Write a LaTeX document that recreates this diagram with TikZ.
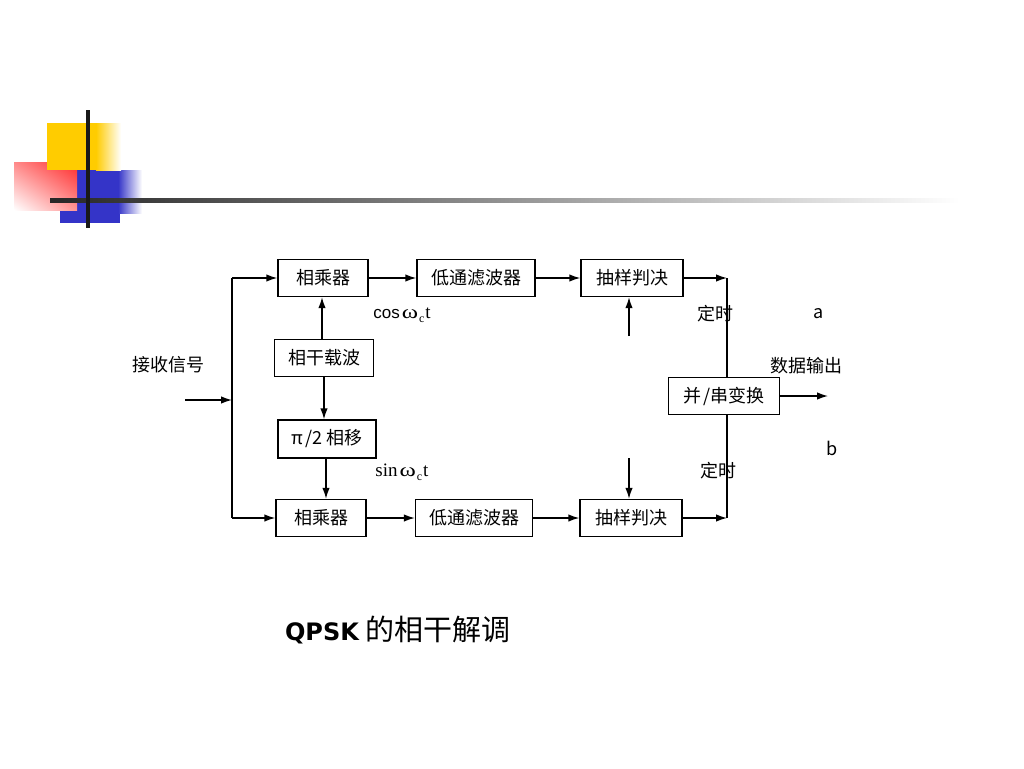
\documentclass[tikz,border=0pt]{standalone}
\usepackage{fontspec}
\setmainfont{Noto Sans CJK SC}
\newfontfamily\serif{Liberation Serif}
\newfontfamily\sans{Liberation Sans}
\newfontfamily\latinb{DejaVu Sans}
\usetikzlibrary{arrows.meta,shadings}
\definecolor{dyellow}{HTML}{FFCC00}
\definecolor{dred}{HTML}{FF2A2A}
\definecolor{dblue}{HTML}{3434C8}
\newcommand{\om}{\scalebox{1.3}[1]{ω}}
\newcommand{\subc}{\raisebox{-0.5ex}{\fontsize{12}{12}\selectfont c}}
\begin{document}
\begin{tikzpicture}[x=1pt,y=-1pt,
  box/.style={draw, line width=1.4pt, inner sep=0pt, minimum height=37pt, font=\fontsize{18}{18}\selectfont},
  arr/.style={-{Latex[length=11pt,width=7.5pt]}, line width=1.4pt},
  ln/.style={line width=1.4pt},
  lbl/.style={inner sep=0pt, font=\fontsize{18}{18}\selectfont},
  sml/.style={inner sep=0pt, font=\serif\fontsize{19}{19}\selectfont}]
\useasboundingbox (0,0) rectangle (1024,768);
% decoration
\fill[dblue] (60,200) rectangle (120,223);
\fill[dblue] (77,170) rectangle (118,213);
\shade[left color=dblue, right color=white] (118,170) rectangle (142,213);
\shade[upper right=dred, upper left=dred!55!white, lower left=white, lower right=dred!50!white] (14,162) rectangle (77,210);
\fill[dyellow] (47,123) rectangle (96,170);
\shade[left color=dyellow, right color=white] (96,123) rectangle (121,170);
\shade[left color=black!85, right color=white] (50,198) rectangle (960,202.5);
\fill[black!90] (85.5,110) rectangle (89.5,228);
% blocks
\node[box, minimum width=90pt] (m1) at (323,278) {相乘器};
\node[box, minimum width=118pt] (l1) at (476,278) {低通滤波器};
\node[box, minimum width=102pt] (s1) at (632,278) {抽样判决};
\node[box, minimum width=99pt] (osc) at (324,358) {相干载波};
\node[box, minimum width=98pt, minimum height=38pt] (ps) at (327,439) {π\hspace{2pt}/2 相移};
\node[box, minimum width=90pt] (m2) at (321,518) {相乘器};
\node[box, minimum width=117pt] (l2) at (474,518) {低通滤波器};
\node[box, minimum width=102pt] (s2) at (631,518) {抽样判决};
\node[box, minimum width=111pt] (pc) at (724,396) {并\hspace{2pt}/串变换};
% coordinates
\coordinate (in) at (185,400);
\coordinate (j) at (232,400);
\coordinate (tA) at (727,278);
\coordinate (tB) at (727,518);
\coordinate (t1) at (629,336);
\coordinate (t2) at (629,458);
\coordinate (out) at (828,396);
% connectors
\draw[arr] (in) -- (j);
\draw[ln] (j |- m1) -- (j |- m2);
\draw[arr] (j |- m1) -- (m1.west);
\draw[arr] (j |- m2) -- (m2.west);
\draw[arr] (m1) -- (l1);
\draw[arr] (l1) -- (s1);
\draw[arr] (m2) -- (l2);
\draw[arr] (l2) -- (s2);
\draw[arr] (s1) -- (tA);
\draw[arr] (s2) -- (tB);
\draw[ln] (tA) -- (tA |- pc.north);
\draw[ln] (tB |- pc.south) -- (tB);
\draw[arr] ([xshift=-2pt]osc.north) -- ([xshift=-2pt]osc.north |- m1.south);
\draw[arr] (osc.south) -- (osc.south |- ps.north);
\draw[arr] ([xshift=-1pt]ps.south) -- ([xshift=-1pt]ps.south |- m2.north);
\draw[arr] (t1) -- (t1 |- s1.south);
\draw[arr] (t2) -- (t2 |- s2.north);
\draw[arr] (pc) -- (out);
% labels
\node[lbl] (rx) at (168,365) {接收信号};
\node[sml] (cosl) at (402,315) {{\sans\fontsize{17}{17}\selectfont cos}\hspace{2pt}\om\hspace{1pt}\subc\hspace{1pt}t};
\node[sml] (sinl) at (402,472) {sin\hspace{2pt}\om\hspace{1pt}\subc\hspace{1pt}t};
\node[lbl] (ds1) at (715,314) {定时};
\node[lbl] (ds2) at (718,471) {定时};
\node[lbl] (la) at (819,314) {a};
\node[lbl] (lb) at (832,448) {b};
\node[lbl] (dout) at (806,366) {数据输出};
\node[inner sep=0pt] (title) at (398,630) {{\latinb\bfseries\fontsize{24}{24}\selectfont QPSK}\hspace{7pt}{\fontsize{29}{29}\selectfont 的相干解调}};
\end{tikzpicture}
\end{document}
